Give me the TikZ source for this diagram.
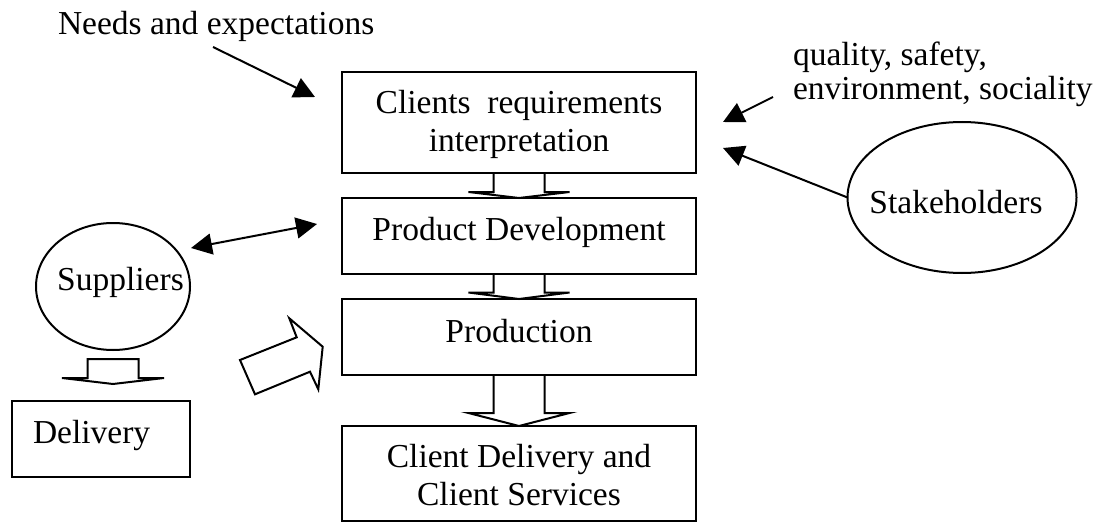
\documentclass[tikz,border=0pt]{standalone}
\usepackage{fontspec}
\setmainfont{Liberation Serif}
\usetikzlibrary{arrows.meta,shapes.geometric,calc}
\begin{document}
\begin{tikzpicture}[x=1pt,y=-1pt,
  every node/.style={font=\fontsize{33.5pt}{38pt}\selectfont, inner sep=0pt, outer sep=0pt},
  box/.style={draw, line width=2pt, rectangle, minimum width=354pt, align=center},
  oval/.style={draw, line width=2pt, ellipse},
  con/.style={line width=2pt, -{Triangle[length=21pt,width=21pt]}},
  dcon/.style={line width=2pt, {Triangle[length=21pt,width=21pt]}-{Triangle[length=21pt,width=21pt]}},
  blk/.style={draw, line width=2pt, line join=miter}]
\useasboundingbox (0,0) rectangle (1099,524);

% main column
\node[box, minimum height=101pt, text height=57pt, text depth=0pt] (cri) at (519,122.5) {Clients\ \ requirements\\interpretation};
\node[box, minimum height=76pt, text height=8pt, text depth=0pt] (pd) at (519,236) {Product Development};
\node[box, minimum height=76pt, text height=10pt, text depth=0pt] (prod) at (519,337) {Production};
\node[box, minimum height=95pt, text height=63pt, text depth=0pt] (cd) at (519,473.5) {Client Delivery and\\Client Services};

% left side
\node[oval, minimum width=154pt, minimum height=127pt, text height=7pt, text depth=0pt] (sup) at (113,286.5) {\makebox[0pt]{\hspace*{15pt}Suppliers}};
\node[draw, line width=2pt, minimum width=178pt, minimum height=76pt, text width=136pt, align=left,
      text height=8pt, text depth=0pt] (del) at (101,439) {Delivery};

% right side
\node[oval, minimum width=229pt, minimum height=151pt, text height=31pt, text depth=0pt] (stk) at (962,197.5) {\makebox[0pt]{Stakeholders\hspace*{12pt}}};

% free texts
\node[anchor=base west] (needs) at (58,35) {Needs and expectations};
\node[anchor=north west, align=left, text height=60pt, text depth=0pt,
      font=\fontsize{33.5pt}{35pt}\selectfont] (qual) at (793,40) {quality, safety,\\environment, sociality};

% thin arrows
\coordinate (nA) at (213,47);
\coordinate (nB) at (315,97);
\draw[con] (nA) -- (nB);
\coordinate (qA) at (773,97);
\coordinate (qB) at (723,122);
\draw[con] (qA) -- (qB);
\coordinate (sB) at (723,148);
\draw[con] (stk.west) -- (sB);
\coordinate (dA) at (191,248);
\coordinate (dB) at (317,224);
\draw[dcon] (dA) -- (dB);

% block arrows between boxes
\draw[blk] ($(cri.south)+(-25.5,0)$) -- ($(cri.south)+(-25.5,19)$) -- ($(cri.south)+(-50.5,19)$) -- (pd.north)
  -- ($(cri.south)+(50.5,19)$) -- ($(cri.south)+(25.5,19)$) -- ($(cri.south)+(25.5,0)$);
\draw[blk] ($(pd.south)+(-25.5,0)$) -- ($(pd.south)+(-25.5,18.5)$) -- ($(pd.south)+(-50.5,18.5)$) -- (prod.north)
  -- ($(pd.south)+(50.5,18.5)$) -- ($(pd.south)+(25.5,18.5)$) -- ($(pd.south)+(25.5,0)$);
\draw[blk] ($(prod.south)+(-25.5,0)$) -- ($(prod.south)+(-25.5,38)$) -- ($(prod.south)+(-50.5,38)$) -- (cd.north)
  -- ($(prod.south)+(50.5,38)$) -- ($(prod.south)+(25.5,38)$) -- ($(prod.south)+(25.5,0)$);
% suppliers -> delivery block arrow
\draw[blk] ($(sup.south)+(-25.5,9)$) -- ($(sup.south)+(-25.5,28)$) -- ($(sup.south)+(-51,28)$) -- ($(sup.south)+(0,34)$)
  -- ($(sup.south)+(51,28)$) -- ($(sup.south)+(25.5,28)$) -- ($(sup.south)+(25.5,9)$) -- cycle;
% tilted block arrow toward production
\draw[blk] (240,360) -- (296.7,337.3) -- (289.3,318.3) -- (322.7,346.7) -- (318.3,389.3) -- (310,371.7) -- (255,394.3) -- cycle;
\end{tikzpicture}
\end{document}
